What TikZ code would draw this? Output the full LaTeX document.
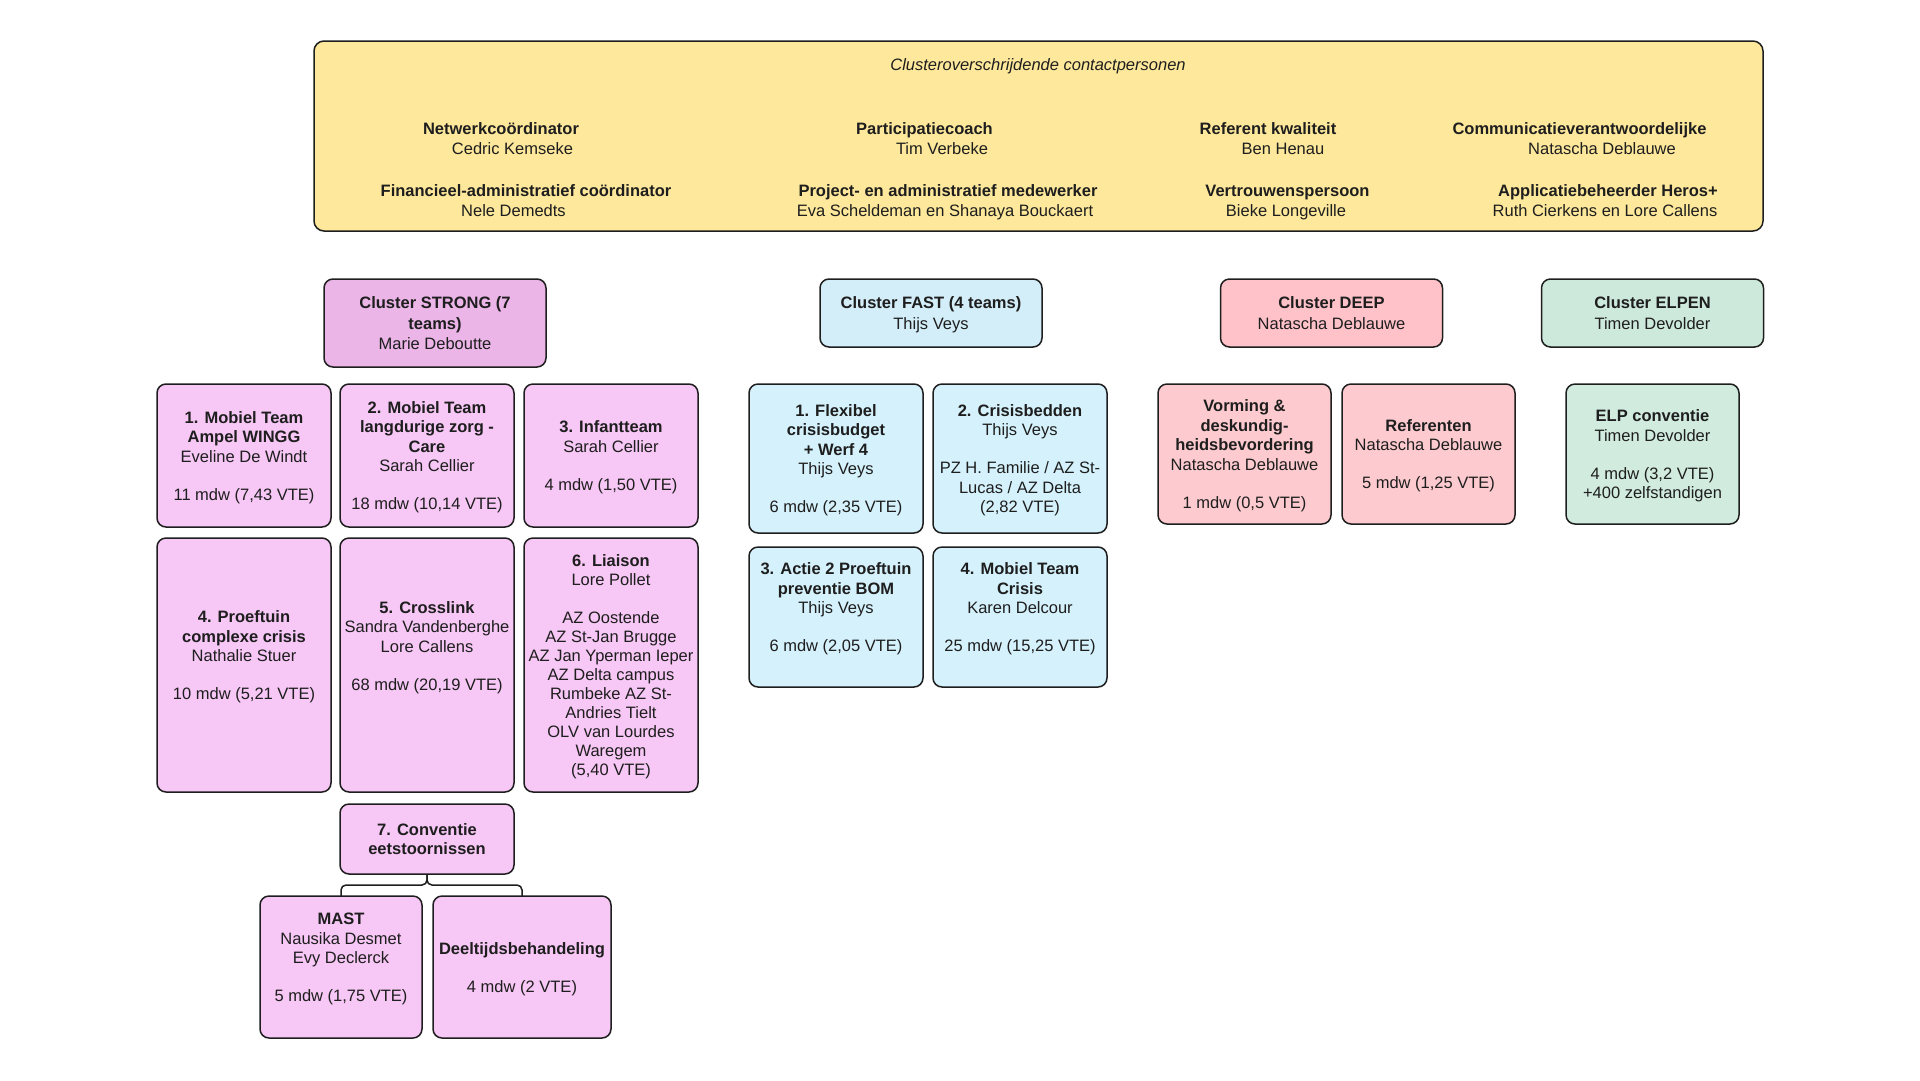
\documentclass[tikz,border=0pt]{standalone}
\usepackage{fontspec}
\setmainfont{Liberation Sans}
\definecolor{ylw}{HTML}{FDE89B}
\definecolor{strongc}{HTML}{EBB5E8}
\definecolor{strongt}{HTML}{F7C7F5}
\definecolor{fastc}{HTML}{D3EEF8}
\definecolor{fastt}{HTML}{D5F2FC}
\definecolor{deepc}{HTML}{FFC2C8}
\definecolor{deept}{HTML}{FDCBCF}
\definecolor{elpc}{HTML}{CDE9DC}
\definecolor{elpt}{HTML}{D1ECDF}
\definecolor{edgec}{HTML}{1E1E1E}
\newcommand\fsz{\fontsize{16.5}{19.5}\selectfont}
\newcommand\fszc{\fontsize{16.5}{20.8}\selectfont}
\newcommand\fszl{\fontsize{16.5}{19}\selectfont}
\newcommand\fst{\rule{0pt}{16.5pt}}
\newcommand\lst{\rule[-4.5pt]{0pt}{4.5pt}}
\newcommand\gap{\\[18.5pt]}
\tikzset{
  box/.style={draw=edgec, line width=1.5pt, rounded corners=9pt, align=center,
    inner sep=2pt, outer sep=0pt, font=\fsz, text=edgec},
  cbox/.style={box, font=\fszc, minimum width=222pt},
  txt/.style={inner sep=0pt, outer sep=0pt, font=\fsz, text=edgec, anchor=base},
  conn/.style={draw=edgec, line width=1.5pt, rounded corners=5pt},
  tw/.style={minimum width=174pt},
}
\begin{document}
\begin{tikzpicture}[x=1pt,y=-1pt]
\useasboundingbox (0,0) rectangle (1920,1080);
% top yellow panel
\node[box, fill=ylw, minimum width=1449pt, minimum height=190pt, rounded corners=10pt] (panel) at (1038.5,136) {};
\node[txt] (title) at (1038,70.5) {\itshape Clusteroverschrijdende contactpersonen};
\node[txt] (r1a) at (501,134) {\bfseries Netwerkcoördinator};
\node[txt] (r1an) at (512.5,154) {Cedric Kemseke};
\node[txt] (r1b) at (924.5,134) {\bfseries Participatiecoach};
\node[txt] (r1bn) at (942,154) {Tim Verbeke};
\node[txt] (r1c) at (1268,134) {\bfseries Referent kwaliteit};
\node[txt] (r1cn) at (1283,154) {Ben Henau};
\node[txt] (r1d) at (1579.5,134) {\bfseries Communicatieverantwoordelijke};
\node[txt] (r1dn) at (1602,154) {Natascha Deblauwe};
\node[txt] (r2a) at (526,196) {\bfseries Financieel-administratief coördinator};
\node[txt] (r2an) at (513.5,216) {Nele Demedts};
\node[txt] (r2b) at (948,196) {\bfseries Project- en administratief medewerker};
\node[txt] (r2bn) at (945,216) {Eva Scheldeman en Shanaya Bouckaert};
\node[txt] (r2c) at (1287.5,196) {\bfseries Vertrouwenspersoon};
\node[txt] (r2cn) at (1286,216) {Bieke Longeville};
\node[txt] (r2d) at (1608,196) {\bfseries Applicatiebeheerder Heros+};
\node[txt] (r2dn) at (1605,216) {Ruth Cierkens en Lore Callens};

% clusters
\node[cbox, fill=strongc, minimum height=88pt] (strong) at (435,323)
  {\fst\textbf{Cluster STRONG (7}\\\textbf{teams)}\\Marie Deboutte\lst};
\node[cbox, fill=fastc, minimum height=68pt] (fast) at (931,313)
  {\fst\textbf{Cluster FAST (4 teams)}\\Thijs Veys\lst};
\node[cbox, fill=deepc, minimum height=68pt] (deep) at (1331.5,313)
  {\fst\textbf{Cluster DEEP}\\Natascha Deblauwe\lst};
\node[cbox, fill=elpc, minimum height=68pt] (elpen) at (1652.5,313)
  {\fst\textbf{Cluster ELPEN}\\Timen Devolder\lst};

% STRONG teams
\node[box, fill=strongt, tw, minimum height=143pt] (s1) at (244,455.5)
  {\fst\textbf{1. Mobiel Team}\\\textbf{Ampel WINGG}\\Eveline De Windt\gap 11 mdw (7,43 VTE)\lst};
\node[box, fill=strongt, tw, minimum height=143pt] (s2) at (427,455.5)
  {\fst\textbf{2. Mobiel Team}\\\textbf{langdurige zorg -}\\\textbf{Care}\\Sarah Cellier\gap 18 mdw (10,14 VTE)\lst};
\node[box, fill=strongt, tw, minimum height=143pt] (s3) at (611,455.5)
  {\fst\textbf{3. Infantteam}\\Sarah Cellier\gap 4 mdw (1,50 VTE)\lst};
\node[box, fill=strongt, tw, minimum height=254pt] (s4) at (244,665)
  {\fst\textbf{4. Proeftuin}\\\textbf{complexe crisis}\\Nathalie Stuer\gap 10 mdw (5,21 VTE)\\ \mbox{}\lst};
\node[box, fill=strongt, tw, minimum height=254pt] (s5) at (427,665)
  {\fst\textbf{5. Crosslink}\\Sandra Vandenberghe\\Lore Callens\gap 68 mdw (20,19 VTE)\\ \mbox{}\\ \mbox{}\lst};
\node[box, fill=strongt, tw, minimum height=254pt, font=\fszl] (s6) at (611,665)
  {\fst\textbf{6. Liaison}\\Lore Pollet\\[19pt]AZ Oostende\\AZ St-Jan Brugge\\AZ Jan Yperman Ieper\\AZ Delta campus\\Rumbeke AZ St-\\Andries Tielt\\OLV van Lourdes\\Waregem\\(5,40 VTE)\lst};
\node[box, fill=strongt, tw, minimum height=70pt] (s7) at (427,839)
  {\fst\textbf{7. Conventie}\\\textbf{eetstoornissen}\lst};
\node[box, fill=strongt, minimum width=162pt, minimum height=142pt] (mast) at (341,967)
  {\fst\textbf{MAST}\\Nausika Desmet\\Evy Declerck\gap 5 mdw (1,75 VTE)\\ \mbox{}\lst};
\node[box, fill=strongt, minimum width=178pt, minimum height=142pt] (deel) at (522,967)
  {\fst\textbf{Deeltijdsbehandeling}\gap 4 mdw (2 VTE)\lst};
\draw[conn] (s7.south) -- ++(0,11) -| (mast.north);
\draw[conn] (s7.south) -- ++(0,11) -| (deel.north);

% FAST teams
\node[box, fill=fastt, tw, minimum height=149pt] (f1) at (836,458.5)
  {\fst\textbf{1. Flexibel}\\\textbf{crisisbudget}\\\textbf{+ Werf 4}\\Thijs Veys\gap 6 mdw (2,35 VTE)\lst};
\node[box, fill=fastt, tw, minimum height=149pt] (f2) at (1020,458.5)
  {\fst\textbf{2. Crisisbedden}\\Thijs Veys\gap PZ H. Familie / AZ St-\\Lucas / AZ Delta\\(2,82 VTE)\lst};
\node[box, fill=fastt, tw, minimum height=140pt] (f3) at (836,617)
  {\fst\textbf{3. Actie 2 Proeftuin}\\\textbf{preventie BOM}\\Thijs Veys\gap 6 mdw (2,05 VTE)\\ \mbox{}\lst};
\node[box, fill=fastt, tw, minimum height=140pt] (f4) at (1020,617)
  {\fst\textbf{4. Mobiel Team}\\\textbf{Crisis}\\Karen Delcour\gap 25 mdw (15,25 VTE)\\ \mbox{}\lst};

% DEEP teams
\node[box, fill=deept, minimum width=173pt, minimum height=140pt] (d1) at (1244.5,454)
  {\fst\textbf{Vorming \&}\\\textbf{deskundig-}\\\textbf{heidsbevordering}\\Natascha Deblauwe\gap 1 mdw (0,5 VTE)\lst};
\node[box, fill=deept, minimum width=173pt, minimum height=140pt] (d2) at (1428.5,454)
  {\fst\textbf{Referenten}\\Natascha Deblauwe\gap 5 mdw (1,25 VTE)\lst};

% ELPEN team
\node[box, fill=elpt, minimum width=173pt, minimum height=140pt] (e1) at (1652.5,454)
  {\fst\textbf{ELP conventie}\\Timen Devolder\gap 4 mdw (3,2 VTE)\\+400 zelfstandigen\lst};
\end{tikzpicture}
\end{document}
